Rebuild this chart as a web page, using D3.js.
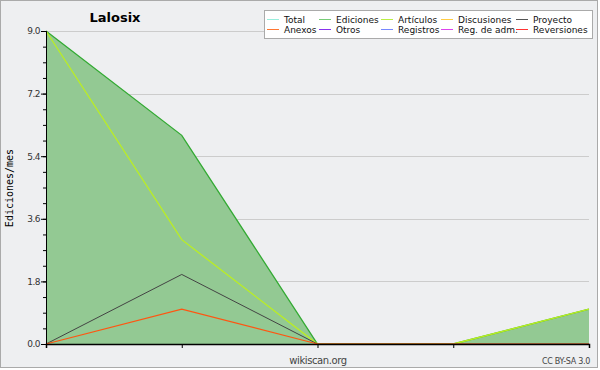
<!DOCTYPE html>
<html>
<head>
<meta charset="utf-8">
<script src="https://cdn.jsdelivr.net/npm/d3@7"></script>
<style>
  body { margin: 0; background: #fff; }
  svg text { font-family: "DejaVu Sans", Verdana, sans-serif; }
</style>
</head>
<body>
<div id="chart"></div>
<script>
// months along x (no labels shown on the chart)
var months = [0, 1, 2, 3, 4];
var ediciones = [9, 6, 0, 0, 1];
var articulos = [9, 3, 0, 0, 1];
var proyecto = [0, 2, 0, 0, 0];
var anexos = [0, 1, 0, 0, 0];

var yTicks = [0, 1.8, 3.6, 5.4, 7.2, 9.0];

var legendNames = ["Total", "Ediciones", "Artículos", "Discusiones", "Proyecto",
                   "Anexos", "Otros", "Registros", "Reg. de adm.", "Reversiones"];
var legendColors = ["#99eedd", "#77cc77", "#bbee44", "#ffcc44", "#555555",
                    "#ff7733", "#8833ee", "#7788ff", "#dd44ee", "#ff3333"];

var width = 600, height = 370;
var margin = {top: 31, right: 11, bottom: 26, left: 46};

var svg = d3.select("#chart").append("svg")
    .attr("width", width)
    .attr("height", height);

//background and frame
svg.append("rect")
    .attr("x", 0.5).attr("y", 0.5)
    .attr("width", width - 3).attr("height", height - 3)
    .attr("fill", "#eeeff1")
    .attr("stroke", "#aaaaaa");

var x = d3.scaleLinear().domain([0, 4]).range([margin.left, width - margin.right]);
var y = d3.scaleLinear().domain([0, 9]).range([height - margin.bottom, margin.top]);

//grid lines at the major ticks
svg.append("g").selectAll("line")
    .data(yTicks).enter().append("line")
    .attr("x1", x(0)).attr("x2", x(4))
    .attr("y1", function(d) { return Math.round(y(d)) + 0.5; })
    .attr("y2", function(d) { return Math.round(y(d)) + 0.5; })
    .attr("stroke", "#cccccc");

//area for Ediciones
var area = d3.area()
    .x(function(d, i) { return x(months[i]); })
    .y0(y(0))
    .y1(function(d) { return y(d); });

svg.append("path")
    .datum(ediciones)
    .attr("d", area)
    .attr("fill", "#93c993");

var line = d3.line()
    .x(function(d, i) { return x(months[i]); })
    .y(function(d) { return y(d); });

var series = [
    {values: ediciones, color: "#33aa33", w: 1.3},
    {values: articulos, color: "#bbee22", w: 1.3},
    {values: proyecto, color: "#444444", w: 1},
    {values: anexos, color: "#ff5511", w: 1.2}
];

series.forEach(function(s) {
    svg.append("path")
        .datum(s.values)
        .attr("d", line)
        .attr("fill", "none")
        .attr("stroke", s.color)
        .attr("stroke-width", s.w);
});

//y axis with minor ticks
var yAxis = svg.append("g")
    .attr("transform", "translate(" + x(0) + ",0)")
    .call(d3.axisLeft(y).tickValues(d3.range(0, 9.01, 0.45)).tickSize(3).tickFormat(""));
var yMajor = svg.append("g")
    .attr("transform", "translate(" + x(0) + ",0)")
    .call(d3.axisLeft(y).tickValues(yTicks).tickSize(5).tickPadding(1)
        .tickFormat(d3.format(".1f")));
[yAxis, yMajor].forEach(function(g) {
    g.select(".domain").attr("stroke", "#000");
    g.selectAll(".tick line").attr("stroke", "#000");
});
yMajor.selectAll("text")
    .style("font-size", "9px")
    .attr("fill", "#333")
    .attr("letter-spacing", "-0.5");

//x axis
var xAxis = svg.append("g")
    .attr("transform", "translate(0," + y(0) + ")")
    .call(d3.axisBottom(x).tickValues(months).tickSize(4).tickFormat(""));
xAxis.select(".domain").attr("stroke", "#000").attr("stroke-width", 1.5);
xAxis.selectAll(".tick line").attr("stroke", "#000");

//texts
svg.append("text")
    .attr("x", 115).attr("y", 22)
    .attr("text-anchor", "middle")
    .style("font-size", "13px")
    .style("font-weight", "bold")
    .text("Lalosix");

svg.append("text")
    .attr("transform", "translate(13,188) rotate(-90)")
    .attr("text-anchor", "middle")
    .style("font-family", "'DejaVu Sans Mono', monospace")
    .style("font-size", "10px")
    .text("Ediciones/mes");

svg.append("text")
    .attr("x", 318).attr("y", 364)
    .attr("text-anchor", "middle")
    .style("font-size", "10px")
    .attr("fill", "#444")
    .attr("letter-spacing", "-0.4")
    .text("wikiscan.org");

svg.append("text")
    .attr("x", 590).attr("y", 364)
    .attr("text-anchor", "end")
    .style("font-size", "8px")
    .attr("fill", "#444")
    .attr("letter-spacing", "-0.3")
    .text("CC BY-SA 3.0");

//legend
var legend = svg.append("g");
legend.append("rect")
    .attr("x", 264.5).attr("y", 10.5)
    .attr("width", 328).attr("height", 28)
    .attr("fill", "#fff")
    .attr("stroke", "#aaaaaa");

var colX = [267, 319, 381, 441, 516];
var items = legend.selectAll("g.item")
    .data(legendNames).enter().append("g")
    .attr("class", "item")
    .attr("transform", function(d, i) {
        return "translate(" + colX[i % 5] + "," + (i < 5 ? 19 : 29) + ")";
    });

items.append("line")
    .attr("x1", 0).attr("x2", 12)
    .attr("y1", 0.5).attr("y2", 0.5)
    .attr("stroke", function(d, i) { return legendColors[i]; });

items.append("text")
    .attr("x", 17).attr("y", 4)
    .style("font-size", "9px")
    .attr("fill", "#111")
    .text(function(d) { return d; });
</script>
</body>
</html>
